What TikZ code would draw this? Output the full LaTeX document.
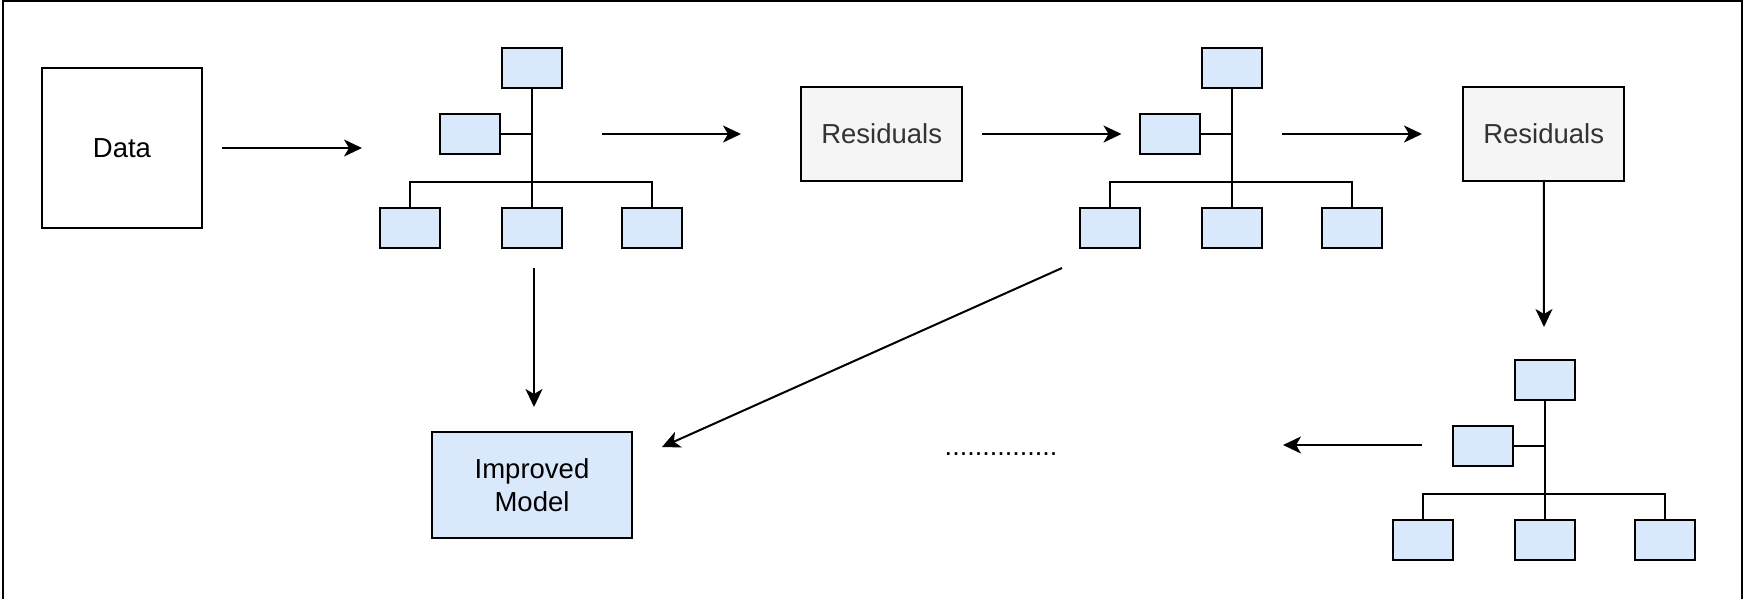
\documentclass[tikz,border=0pt]{standalone}
\usepackage{fontspec}
\setmainfont{Liberation Sans}
\usetikzlibrary{arrows.meta}
\definecolor{bluefill}{HTML}{DAE8FC}
\definecolor{grayfill}{HTML}{F5F5F5}
\definecolor{graytext}{HTML}{333333}
\tikzset{
  basebox/.style={draw=black, line width=2pt, inner sep=0pt, outer sep=0pt},
  txt/.style={font=\fontsize{27.5}{33}\selectfont},
  databox/.style={basebox, txt, minimum width=160pt, minimum height=160pt},
  resbox/.style={basebox, txt, fill=grayfill, text=graytext, minimum width=161pt, minimum height=94pt},
  modelbox/.style={basebox, txt, fill=bluefill, align=center, minimum width=200pt, minimum height=106pt},
  leaf/.style={basebox, fill=bluefill, minimum width=60pt, minimum height=40pt},
  link/.style={line width=2pt},
  flow/.style={line width=2pt, -{Stealth[length=18pt, width=17pt, inset=5pt]}},
}
\begin{document}
\begin{tikzpicture}[x=1pt,y=-1pt]
\useasboundingbox (0,0) rectangle (1746,598);
\clip (0,0) rectangle (1746,598);
\fill[white] (0,0) rectangle (1746,598);
\draw[line width=2pt] (2.5,1) rectangle (1741.7,640);

% main boxes
\node[databox] (data) at (122,148) {Data};
\node[resbox] (res1) at (881.7,134) {Residuals};
\node[resbox] (res2) at (1543.7,134) {Residuals};
\node[modelbox] (model) at (532,485) {Improved\\Model};
\node[font=\fontsize{27}{33}\selectfont, anchor=base] (dots) at (1001,455) {...............};

% trees
\foreach \n/\dx/\dy in {1/0/0, 2/700/0, 3/1013/312}{
  \node[leaf] (top\n) at (532+\dx, 68+\dy) {};
  \node[leaf] (left\n) at (470+\dx, 134+\dy) {};
  \node[leaf] (bl\n) at (410+\dx, 228+\dy) {};
  \node[leaf] (bm\n) at (532+\dx, 228+\dy) {};
  \node[leaf] (br\n) at (652+\dx, 228+\dy) {};
  \coordinate (bar\n) at (532+\dx, 182+\dy);
  \draw[link] (top\n) -- (bm\n);
  \draw[link] (left\n) -- (left\n -| top\n);
  \draw[link] (bl\n.north) |- (bar\n) -| (br\n.north);
}

% arrow end points
\coordinate (a1s) at (222,148);   \coordinate (a1e) at (362,148);
\coordinate (a2s) at (602,134);   \coordinate (a2e) at (741,134);
\coordinate (a3s) at (982,134);   \coordinate (a3e) at (1121.5,134);
\coordinate (a4s) at (1282,134);  \coordinate (a4e) at (1422,134);
\coordinate (a5e) at (1544,327);
\coordinate (a6s) at (534,268);   \coordinate (a6e) at (534,407);
\coordinate (a7s) at (1062,268);  \coordinate (a7e) at (662,447);
\coordinate (a8s) at (1422,445);  \coordinate (a8e) at (1283,445);

\draw[flow] (a1s) -- (a1e);
\draw[flow] (a2s) -- (a2e);
\draw[flow] (a3s) -- (a3e);
\draw[flow] (a4s) -- (a4e);
\draw[flow] (res2) -- (a5e);
\draw[flow] (a6s) -- (a6e);
\draw[flow] (a7s) -- (a7e);
\draw[flow] (a8s) -- (a8e);
\end{tikzpicture}
\end{document}
